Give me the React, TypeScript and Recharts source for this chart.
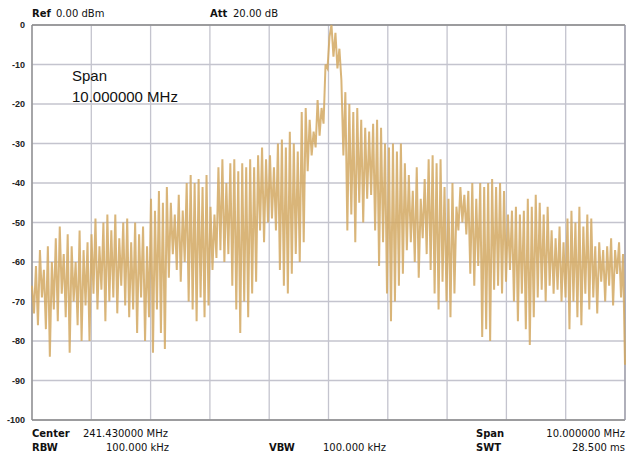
import { LineChart, Line, XAxis, YAxis, CartesianGrid, ReferenceLine } from 'recharts';

// dB ticks and frequency grid (offset from centre, MHz)
const yTicks = [0, -10, -20, -30, -40, -50, -60, -70, -80, -90, -100];
const xTicks = [-5, -4, -3, -2, -1, 0, 1, 2, 3, 4, 5];

// trace, left of the carrier
const traceLeft = [
    -66, -73, -61, -76, -57, -69, -62, -77, -56, -84,
    -60, -72, -54, -75, -51, -68, -58, -74, -53, -83,
    -56, -70, -60, -76, -52, -80, -57, -71, -55, -80,
    -53, -68, -49, -72, -56, -67, -50, -75, -48, -70,
    -52, -69, -48, -73, -54, -66, -50, -71, -49, -74,
    -55, -72, -50, -78, -53, -69, -51, -80, -56, -74,
    -44, -83, -47, -72, -42, -78, -45, -82, -41, -64,
    -45, -58, -48, -62, -43, -65, -47, -60, -40, -70,
    -38, -72, -40, -75, -39, -69, -41, -74, -38, -71,
    -46, -62, -48, -59, -36, -57, -34, -60, -40, -58,
    -35, -66, -34, -72, -37, -78, -35, -70, -36, -74,
    -34, -68, -36, -65, -33, -52, -31, -55, -34, -50,
    -33, -49, -36, -52, -30, -62, -29, -66, -31, -68,
];

// carrier peak
const tracePeak = [
    -27, -63, -30, -58, -32, -60, -22, -55, -21, -37,
    -24, -33, -27, -31, -19, -28, -21, -25, -10, -11,
    -3, 0, -8, -2, -11, -6, -14, -33, -17, -52,
    -20, -48, -22, -55, -21, -45, -24, -50, -26, -44,
];

// right of the carrier
const traceRight = [
    -27, -43, -25, -52, -24, -61, -26, -55, -30, -68,
    -31, -75, -30, -70, -32, -66, -30, -63, -35, -57,
    -38, -55, -42, -60, -36, -64, -44, -54, -39, -58,
    -34, -62, -33, -68, -35, -72, -34, -65, -41, -70,
    -44, -74, -40, -68, -46, -52, -41, -50, -43, -53,
    -42, -63, -40, -66, -44, -61, -40, -79, -41, -77,
    -40, -80, -39, -67, -41, -66, -40, -68, -42, -65,
    -48, -62, -47, -70, -46, -75, -48, -68, -47, -77,
    -44, -81, -46, -74, -43, -69, -45, -67, -48, -70,
    -46, -66, -52, -68, -54, -67, -51, -70, -55, -69,
    -49, -77, -47, -70, -50, -74, -46, -76, -51, -68,
    -48, -72, -49, -69, -56, -73, -55, -65, -57, -70,
    -56, -66, -54, -71, -57, -63, -55, -69, -58, -86,
];

const trace = [...traceLeft, ...tracePeak, ...traceRight];
const data = trace.map((level, i) => ({ f: -5 + (i * 10) / (trace.length - 1), level }));

const txt: React.CSSProperties = {
    position: 'absolute',
    fontFamily: '"DejaVu Sans", sans-serif',
    fontSize: 10,
    color: '#111',
    whiteSpace: 'nowrap',
    lineHeight: '12px',
};
const b: React.CSSProperties = { ...txt, fontWeight: 'bold' };
const big: React.CSSProperties = {
    ...txt,
    fontFamily: '"Liberation Sans", Arial, sans-serif',
    fontSize: 15,
    lineHeight: '18px',
};

export default function App() {
    return (
        <div style={{ position: 'relative', width: 627, height: 455, background: '#fff' }}>
            <style>{'body{margin:0}'}</style>
            <LineChart
                width={627}
                height={455}
                data={data}
                margin={{ top: 25, right: 2, bottom: 35, left: 0 }}
            >
                <CartesianGrid stroke="#c4c4ce" strokeWidth={1.3} />
                <XAxis dataKey="f" type="number" domain={[-5, 5]} ticks={xTicks} hide />
                <YAxis
                    domain={[-100, 0]}
                    ticks={yTicks}
                    width={32}
                    axisLine={false}
                    tickLine={false}
                    tickSize={6}
                    tickMargin={1}
                    tick={{ fontSize: 9, fontWeight: 'bold', fill: '#222', fontFamily: '"Liberation Sans", Arial, sans-serif' }}
                />
                <ReferenceLine y={0} stroke="#8a8a8a" strokeWidth={1.3} />
                <ReferenceLine y={-100} stroke="#8a8a8a" strokeWidth={1.3} />
                <ReferenceLine x={-5} stroke="#8a8a8a" strokeWidth={1.3} />
                <ReferenceLine x={5} stroke="#9a9aa6" strokeWidth={1.3} />
                <Line
                    type="linear"
                    dataKey="level"
                    stroke="#d2a862"
                    strokeWidth={2}
                    strokeOpacity={0.85}
                    dot={false}
                    isAnimationActive={false}
                />
            </LineChart>

            <span style={{ ...b, left: 32, top: 8 }}>Ref</span>
            <span style={{ ...txt, left: 56, top: 8 }}>0.00 dBm</span>
            <span style={{ ...b, left: 210, top: 8 }}>Att</span>
            <span style={{ ...txt, left: 233, top: 8 }}>20.00 dB</span>

            <span style={{ ...big, left: 72, top: 67 }}>Span</span>
            <span style={{ ...big, left: 72, top: 88 }}>10.000000 MHz</span>

            <span style={{ ...b, left: 32, top: 428 }}>Center</span>
            <span style={{ ...txt, left: 83, top: 428 }}>241.430000 MHz</span>
            <span style={{ ...b, left: 32, top: 442 }}>RBW</span>
            <span style={{ ...txt, left: 106, top: 442 }}>100.000 kHz</span>
            <span style={{ ...b, left: 269, top: 442 }}>VBW</span>
            <span style={{ ...txt, left: 323, top: 442 }}>100.000 kHz</span>
            <span style={{ ...b, left: 476, top: 428 }}>Span</span>
            <span style={{ ...txt, right: 2, top: 428 }}>10.000000 MHz</span>
            <span style={{ ...b, left: 476, top: 442 }}>SWT</span>
            <span style={{ ...txt, right: 2, top: 442 }}>28.500 ms</span>
        </div>
    );
}
